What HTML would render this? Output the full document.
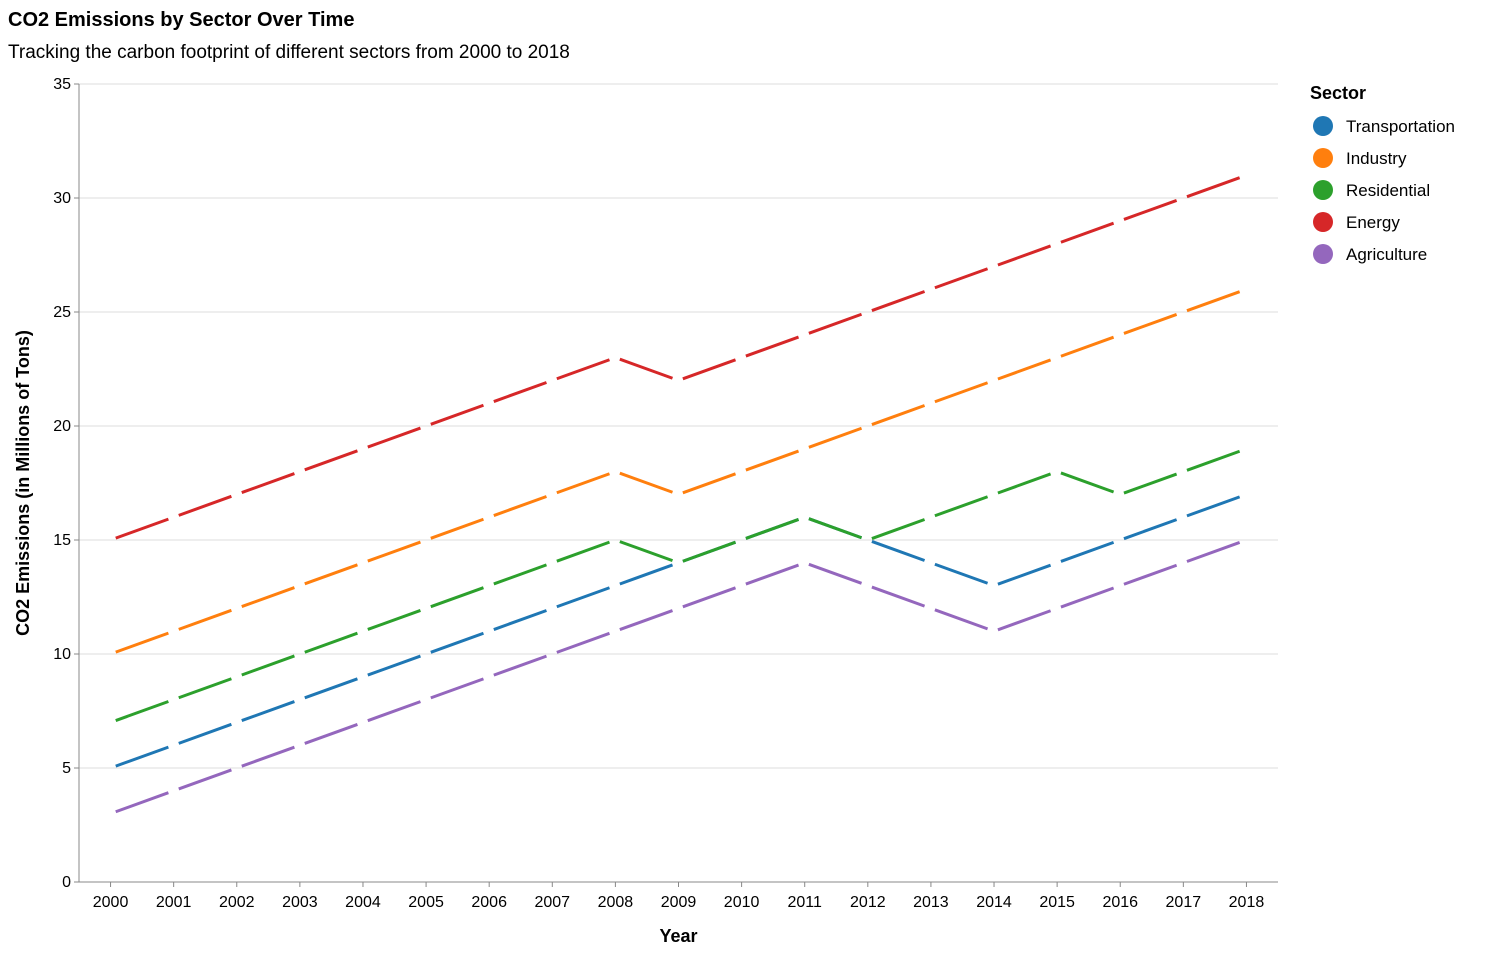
<!DOCTYPE html>
<html><head><meta charset="utf-8"><style>
body{margin:0;background:#fff;font-family:"Liberation Sans",Arial,sans-serif}
svg text{font-family:"Liberation Sans",Arial,sans-serif}
</style></head><body>
<svg id="chart" width="1486" height="956">
<text x="8" y="26" font-size="20" font-weight="bold" fill="#000">CO2 Emissions by Sector Over Time</text>
<text x="8" y="58" font-size="19" fill="#000">Tracking the carbon footprint of different sectors from 2000 to 2018</text>
<g id="grid"></g><g id="axes"></g><g id="lines"></g><g id="legend"></g>
</svg>
<script>
const years=[2000,2001,2002,2003,2004,2005,2006,2007,2008,2009,2010,2011,2012,2013,2014,2015,2016,2017,2018];
const sectors=["Transportation","Industry","Residential","Energy","Agriculture"];
const colors=["#1f77b4","#ff7f0e","#2ca02c","#d62728","#9467bd"];
const transportation=[5,6,7,8,9,10,11,12,13,14,15,16,15,14,13,14,15,16,17];
const industry=[10,11,12,13,14,15,16,17,18,17,18,19,20,21,22,23,24,25,26];
const residential=[7,8,9,10,11,12,13,14,15,14,15,16,15,16,17,18,17,18,19];
const energy=[15,16,17,18,19,20,21,22,23,22,23,24,25,26,27,28,29,30,31];
const agriculture=[3,4,5,6,7,8,9,10,11,12,13,14,13,12,11,12,13,14,15];
const yTicks=[0,5,10,15,20,25,30,35];
const series=[transportation,industry,residential,energy,agriculture];
const NS="http://www.w3.org/2000/svg";
const L=79,R=1278,T=84,B=882,yMax=35;
const step=(R-L)/years.length;
const x=i=>L+step*(i+0.5);
const y=v=>B-(v/yMax)*(B-T);
function mk(tag,attrs,parent,text){const e=document.createElementNS(NS,tag);for(const k in attrs)e.setAttribute(k,attrs[k]);if(text!==undefined)e.textContent=text;parent.appendChild(e);return e;}
const grid=document.getElementById('grid'),axes=document.getElementById('axes'),lines=document.getElementById('lines'),legend=document.getElementById('legend');
yTicks.forEach(t=>{
  const g=mk('line',{x1:L,x2:R,y1:y(t),y2:y(t),stroke:'#ddd','stroke-width':1},grid);
  
  
  mk('line',{x1:L-5,x2:L,y1:y(t),y2:y(t),stroke:'#888'},axes);
  const tx=mk('text',{x:L-8,y:y(t)+5,'text-anchor':'end','font-size':16,fill:'#000'},axes,t);
  
  
});
mk('line',{x1:L,x2:L,y1:T,y2:B,stroke:'#888'},axes);
mk('line',{x1:L,x2:R,y1:B,y2:B,stroke:'#888'},axes);
years.forEach((yr,i)=>{
  mk('line',{x1:x(i),x2:x(i),y1:B,y2:B+5,stroke:'#888'},axes);
  const tx=mk('text',{x:x(i),y:B+25,'text-anchor':'middle','font-size':16,fill:'#000'},axes,yr);
  
  
});
const xt=mk('text',{x:(L+R)/2,y:942,'text-anchor':'middle','font-size':18,'font-weight':'bold'},axes,'Year');


const yt=mk('text',{x:0,y:0,'text-anchor':'middle','font-size':18,'font-weight':'bold',transform:`translate(29,${(T+B)/2}) rotate(-90)`},axes,'CO2 Emissions (in Millions of Tons)');


series.forEach((s,k)=>{
  const d=s.map((v,i)=>(i?'L':'M')+x(i)+','+y(v)).join('');
  const p=mk('path',{d:d,fill:'none',stroke:colors[k],'stroke-width':3,'stroke-dasharray':'56 11','stroke-dashoffset':61.5},lines);
  
  
});
const lt=mk('text',{x:1310,y:99,'font-size':18,'font-weight':'bold'},legend,'Sector');


sectors.forEach((s,k)=>{
  const g=mk('g',{},legend);
  
  
  const cy=126+k*32;
  mk('circle',{cx:1323,cy:cy,r:10,fill:colors[k]},g);
  mk('text',{x:1346,y:cy+6,'font-size':17},g,s);
});
</script>
</body></html>
